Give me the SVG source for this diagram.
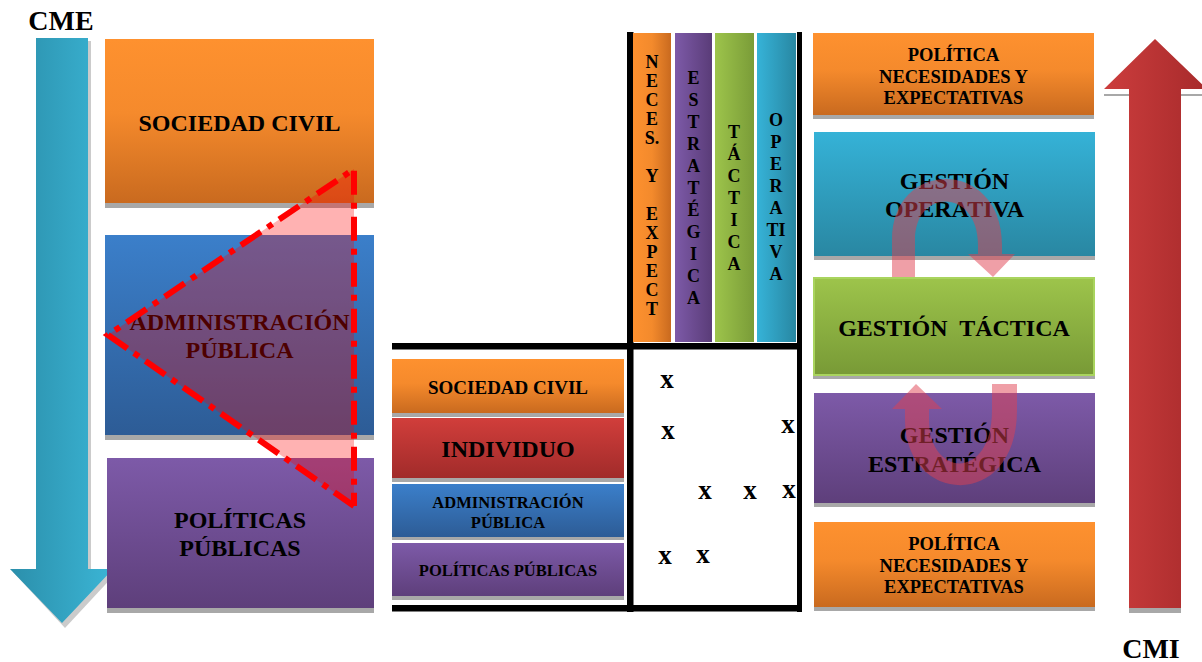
<svg xmlns="http://www.w3.org/2000/svg" width="1202" height="662" viewBox="0 0 1202 662">
<defs>
<linearGradient id="vO" x1="0" y1="0" x2="0" y2="1"><stop offset="0" stop-color="#fe912f"/><stop offset="0.45" stop-color="#f58a2c"/><stop offset="1" stop-color="#c96a1f"/></linearGradient>
<linearGradient id="vB" x1="0" y1="0" x2="0" y2="1"><stop offset="0" stop-color="#3b7fca"/><stop offset="1" stop-color="#2d5c96"/></linearGradient>
<linearGradient id="vP" x1="0" y1="0" x2="0" y2="1"><stop offset="0" stop-color="#7d5aa8"/><stop offset="1" stop-color="#5e3f7b"/></linearGradient>
<linearGradient id="vR" x1="0" y1="0" x2="0" y2="1"><stop offset="0" stop-color="#d13e3b"/><stop offset="1" stop-color="#a12b2a"/></linearGradient>
<linearGradient id="vG" x1="0" y1="0" x2="0" y2="1"><stop offset="0" stop-color="#9dc44b"/><stop offset="1" stop-color="#789a36"/></linearGradient>
<linearGradient id="vC" x1="0" y1="0" x2="0" y2="1"><stop offset="0" stop-color="#35b2d7"/><stop offset="1" stop-color="#2987a2"/></linearGradient>
<linearGradient id="hO" x1="0" y1="0" x2="1" y2="0"><stop offset="0" stop-color="#fe912f"/><stop offset="0.5" stop-color="#f38a2c"/><stop offset="1" stop-color="#c96a1f"/></linearGradient>
<linearGradient id="hP" x1="0" y1="0" x2="1" y2="0"><stop offset="0" stop-color="#7d5aa8"/><stop offset="1" stop-color="#5a3c78"/></linearGradient>
<linearGradient id="hG" x1="0" y1="0" x2="1" y2="0"><stop offset="0" stop-color="#9dc44b"/><stop offset="1" stop-color="#7a9c38"/></linearGradient>
<linearGradient id="hC" x1="0" y1="0" x2="1" y2="0"><stop offset="0" stop-color="#36b3d8"/><stop offset="1" stop-color="#2887a2"/></linearGradient>
<linearGradient id="hArrowB" x1="0" y1="0" x2="1" y2="0"><stop offset="0" stop-color="#2b8fab"/><stop offset="1" stop-color="#3bb5d5"/></linearGradient>
<linearGradient id="hArrowR" x1="0" y1="0" x2="1" y2="0"><stop offset="0" stop-color="#cc3d3d"/><stop offset="1" stop-color="#a72a2b"/></linearGradient>
</defs>
<style>
text{font-family:"Liberation Serif","Times New Roman",serif;font-weight:bold;fill:#000;text-anchor:middle}
.sh{fill:#a8a8a8}
.big{font-size:24px}
.mid{font-size:18.5px}
.sm{font-size:16.5px}
.col{font-size:18px}
.x{font-size:27px}
.lbl{font-size:28px}
.bar{fill:#000}
.curve{fill:#e0404f;fill-opacity:0.5}
</style>
<rect width="1202" height="662" fill="#fff"/>

<g id="label-cme"><text class="lbl" x="61" y="30">CME</text></g>
<g id="label-cmi"><text class="lbl" x="1151" y="658">CMI</text></g>

<g id="connectors">
<polygon class="sh" points="39,41 91,41 91,572 117,572 65,628 13,572 39,572" opacity="0.6"/>
<polygon fill="url(#hArrowB)" points="36,38 88,38 88,569 113,569 62,623 10,569 36,569"/>
<rect class="sh" x="1129" y="95" width="52" height="518"/>
<polygon class="sh" points="1104,94 1206,94 1206,96 1104,96"/>
<polygon fill="url(#hArrowR)" points="1155,39 1207,89 1181,89 1181,608 1129,608 1129,89 1104,89"/>
</g>

<g id="n-sociedad-civil">
<rect class="sh" x="105" y="44" width="269" height="164"/>
<rect x="105" y="39" width="269" height="164" fill="url(#vO)"/>
<text class="big" x="239.5" y="131">SOCIEDAD CIVIL</text>
</g>
<g id="n-administracion-publica">
<rect class="sh" x="105" y="240" width="269" height="200"/>
<rect x="105" y="235" width="269" height="200" fill="url(#vB)"/>
<text class="big" x="239.5" y="330">ADMINISTRACIÓN</text>
<text class="big" x="239.5" y="358">PÚBLICA</text>
</g>
<g id="n-politicas-publicas">
<rect class="sh" x="107" y="463" width="267" height="150"/>
<rect x="107" y="458" width="267" height="150" fill="url(#vP)"/>
<text class="big" x="240" y="528">POLÍTICAS</text>
<text class="big" x="240" y="556">PÚBLICAS</text>
</g>

<g id="triangle">
<polygon points="354,169 108,335 354,506" fill="#ff0000" fill-opacity="0.3"/>
<polyline points="354,506 108,335 354,169 354,506" fill="none" stroke="#ff0000" stroke-width="6" stroke-dasharray="24,8,6,8"/>
</g>

<g id="matrix-frame">
<rect class="bar" x="627" y="32" width="6.5" height="580"/>
<rect class="bar" x="797" y="32" width="5" height="580"/>
<rect class="bar" x="392" y="343" width="410" height="6.5"/>
<rect class="bar" x="392" y="605" width="410" height="6.5"/>
</g>

<g id="c-neces">
<rect x="633" y="33" width="38" height="309" fill="url(#hO)"/>
<text class="col" x="652"><tspan x="652" y="68">N</tspan><tspan x="652" y="87">E</tspan><tspan x="652" y="106">C</tspan><tspan x="652" y="125">E</tspan><tspan x="652" y="144">S.</tspan><tspan x="652" y="182">Y</tspan><tspan x="652" y="220">E</tspan><tspan x="652" y="239">X</tspan><tspan x="652" y="258">P</tspan><tspan x="652" y="277">E</tspan><tspan x="652" y="296">C</tspan><tspan x="652" y="315">T</tspan></text>
</g>
<g id="c-estrategica">
<rect x="675" y="33" width="37" height="309" fill="url(#hP)"/>
<text class="col" x="693.5"><tspan x="693.5" y="84">E</tspan><tspan x="693.5" y="106">S</tspan><tspan x="693.5" y="128">T</tspan><tspan x="693.5" y="150">R</tspan><tspan x="693.5" y="172">A</tspan><tspan x="693.5" y="194">T</tspan><tspan x="693.5" y="216">É</tspan><tspan x="693.5" y="238">G</tspan><tspan x="693.5" y="260">I</tspan><tspan x="693.5" y="282">C</tspan><tspan x="693.5" y="304">A</tspan></text>
</g>
<g id="c-tactica">
<rect x="715" y="33" width="39" height="309" fill="url(#hG)"/>
<text class="col" x="734"><tspan x="734" y="138">T</tspan><tspan x="734" y="160">Á</tspan><tspan x="734" y="182">C</tspan><tspan x="734" y="204">T</tspan><tspan x="734" y="226">I</tspan><tspan x="734" y="248">C</tspan><tspan x="734" y="270">A</tspan></text>
</g>
<g id="c-operativa">
<rect x="757" y="33" width="39" height="309" fill="url(#hC)"/>
<text class="col" x="776"><tspan x="776" y="126">O</tspan><tspan x="776" y="148">P</tspan><tspan x="776" y="170">E</tspan><tspan x="776" y="192">R</tspan><tspan x="776" y="214">A</tspan><tspan x="776" y="236">TI</tspan><tspan x="776" y="258">V</tspan><tspan x="776" y="280">A</tspan></text>
</g>

<g id="r-sociedad-civil">
<rect class="sh" x="392" y="363" width="232" height="54"/>
<rect x="392" y="359" width="232" height="54" fill="url(#vO)"/>
<text style="font-size:19px" x="508" y="394">SOCIEDAD CIVIL</text>
</g>
<g id="r-individuo">
<rect class="sh" x="392" y="422" width="232" height="60"/>
<rect x="392" y="418" width="232" height="60" fill="url(#vR)"/>
<text class="big" x="508" y="457">INDIVIDUO</text>
</g>
<g id="r-administracion">
<rect class="sh" x="392" y="487" width="232" height="53"/>
<rect x="392" y="484" width="232" height="53" fill="url(#vB)"/>
<text class="sm" x="508" y="508">ADMINISTRACIÓN</text>
<text class="sm" x="508" y="528">PÚBLICA</text>
</g>
<g id="r-politicas">
<rect class="sh" x="392" y="547" width="232" height="53"/>
<rect x="392" y="543" width="232" height="53" fill="url(#vP)"/>
<text class="sm" x="508" y="576">POLÍTICAS PÚBLICAS</text>
</g>

<g id="marks">
<text class="x" x="667" y="388">x</text>
<text class="x" x="668" y="439">x</text>
<text class="x" x="788" y="433">x</text>
<text class="x" x="705" y="499">x</text>
<text class="x" x="750" y="499">x</text>
<text class="x" x="789" y="498">x</text>
<text class="x" x="665" y="564">x</text>
<text class="x" x="703" y="563">x</text>
</g>

<g id="g-politica-top">
<rect class="sh" x="813" y="37" width="281" height="82"/>
<rect x="813" y="33" width="281" height="82" fill="url(#vO)"/>
<text class="mid" x="953.5" y="61">POLÍTICA</text>
<text class="mid" x="953.5" y="83">NECESIDADES Y</text>
<text class="mid" x="953.5" y="104">EXPECTATIVAS</text>
</g>
<g id="g-operativa">
<rect class="sh" x="814" y="136" width="281" height="124"/>
<rect x="814" y="132" width="281" height="124" fill="url(#vC)"/>
<text class="big" x="954.5" y="189">GESTIÓN</text>
<text class="big" x="954.5" y="217">OPERATIVA</text>
</g>
<g id="g-tactica">
<rect class="sh" x="813" y="281" width="282" height="98"/>
<rect x="814" y="278" width="280" height="97" fill="url(#vG)" stroke="#a9d45e" stroke-width="2"/>
<text class="big" x="954" y="336" style="white-space:pre">GESTIÓN  TÁCTICA</text>
</g>
<g id="g-estrategica">
<rect class="sh" x="814" y="397" width="281" height="110"/>
<rect x="814" y="393" width="281" height="110" fill="url(#vP)"/>
<text class="big" x="954.5" y="443">GESTIÓN</text>
<text class="big" x="954.5" y="472">ESTRATÉGICA</text>
</g>
<g id="g-politica-bottom">
<rect class="sh" x="814" y="526" width="281" height="85"/>
<rect x="814" y="522" width="281" height="85" fill="url(#vO)"/>
<text class="mid" x="954" y="550">POLÍTICA</text>
<text class="mid" x="954" y="572">NECESIDADES Y</text>
<text class="mid" x="954" y="593">EXPECTATIVAS</text>
</g>

<g id="cycle-arrows">
<path class="curve" d="M892,277 L892,240 C892,158 1002,158 1002,245 L1002,254 L1015,254 L993,277 L968,254 L978,254 L978,245 C978,188 915,188 915,240 L915,277 Z"/>
<path class="curve" d="M1017,384 L1017,410 C1017,512 905,505 905,420 L905,409 L892,409 L916,384 L942,409 L929,409 L929,420 C929,477 992,482 992,410 L992,384 Z"/>
</g>
</svg>
